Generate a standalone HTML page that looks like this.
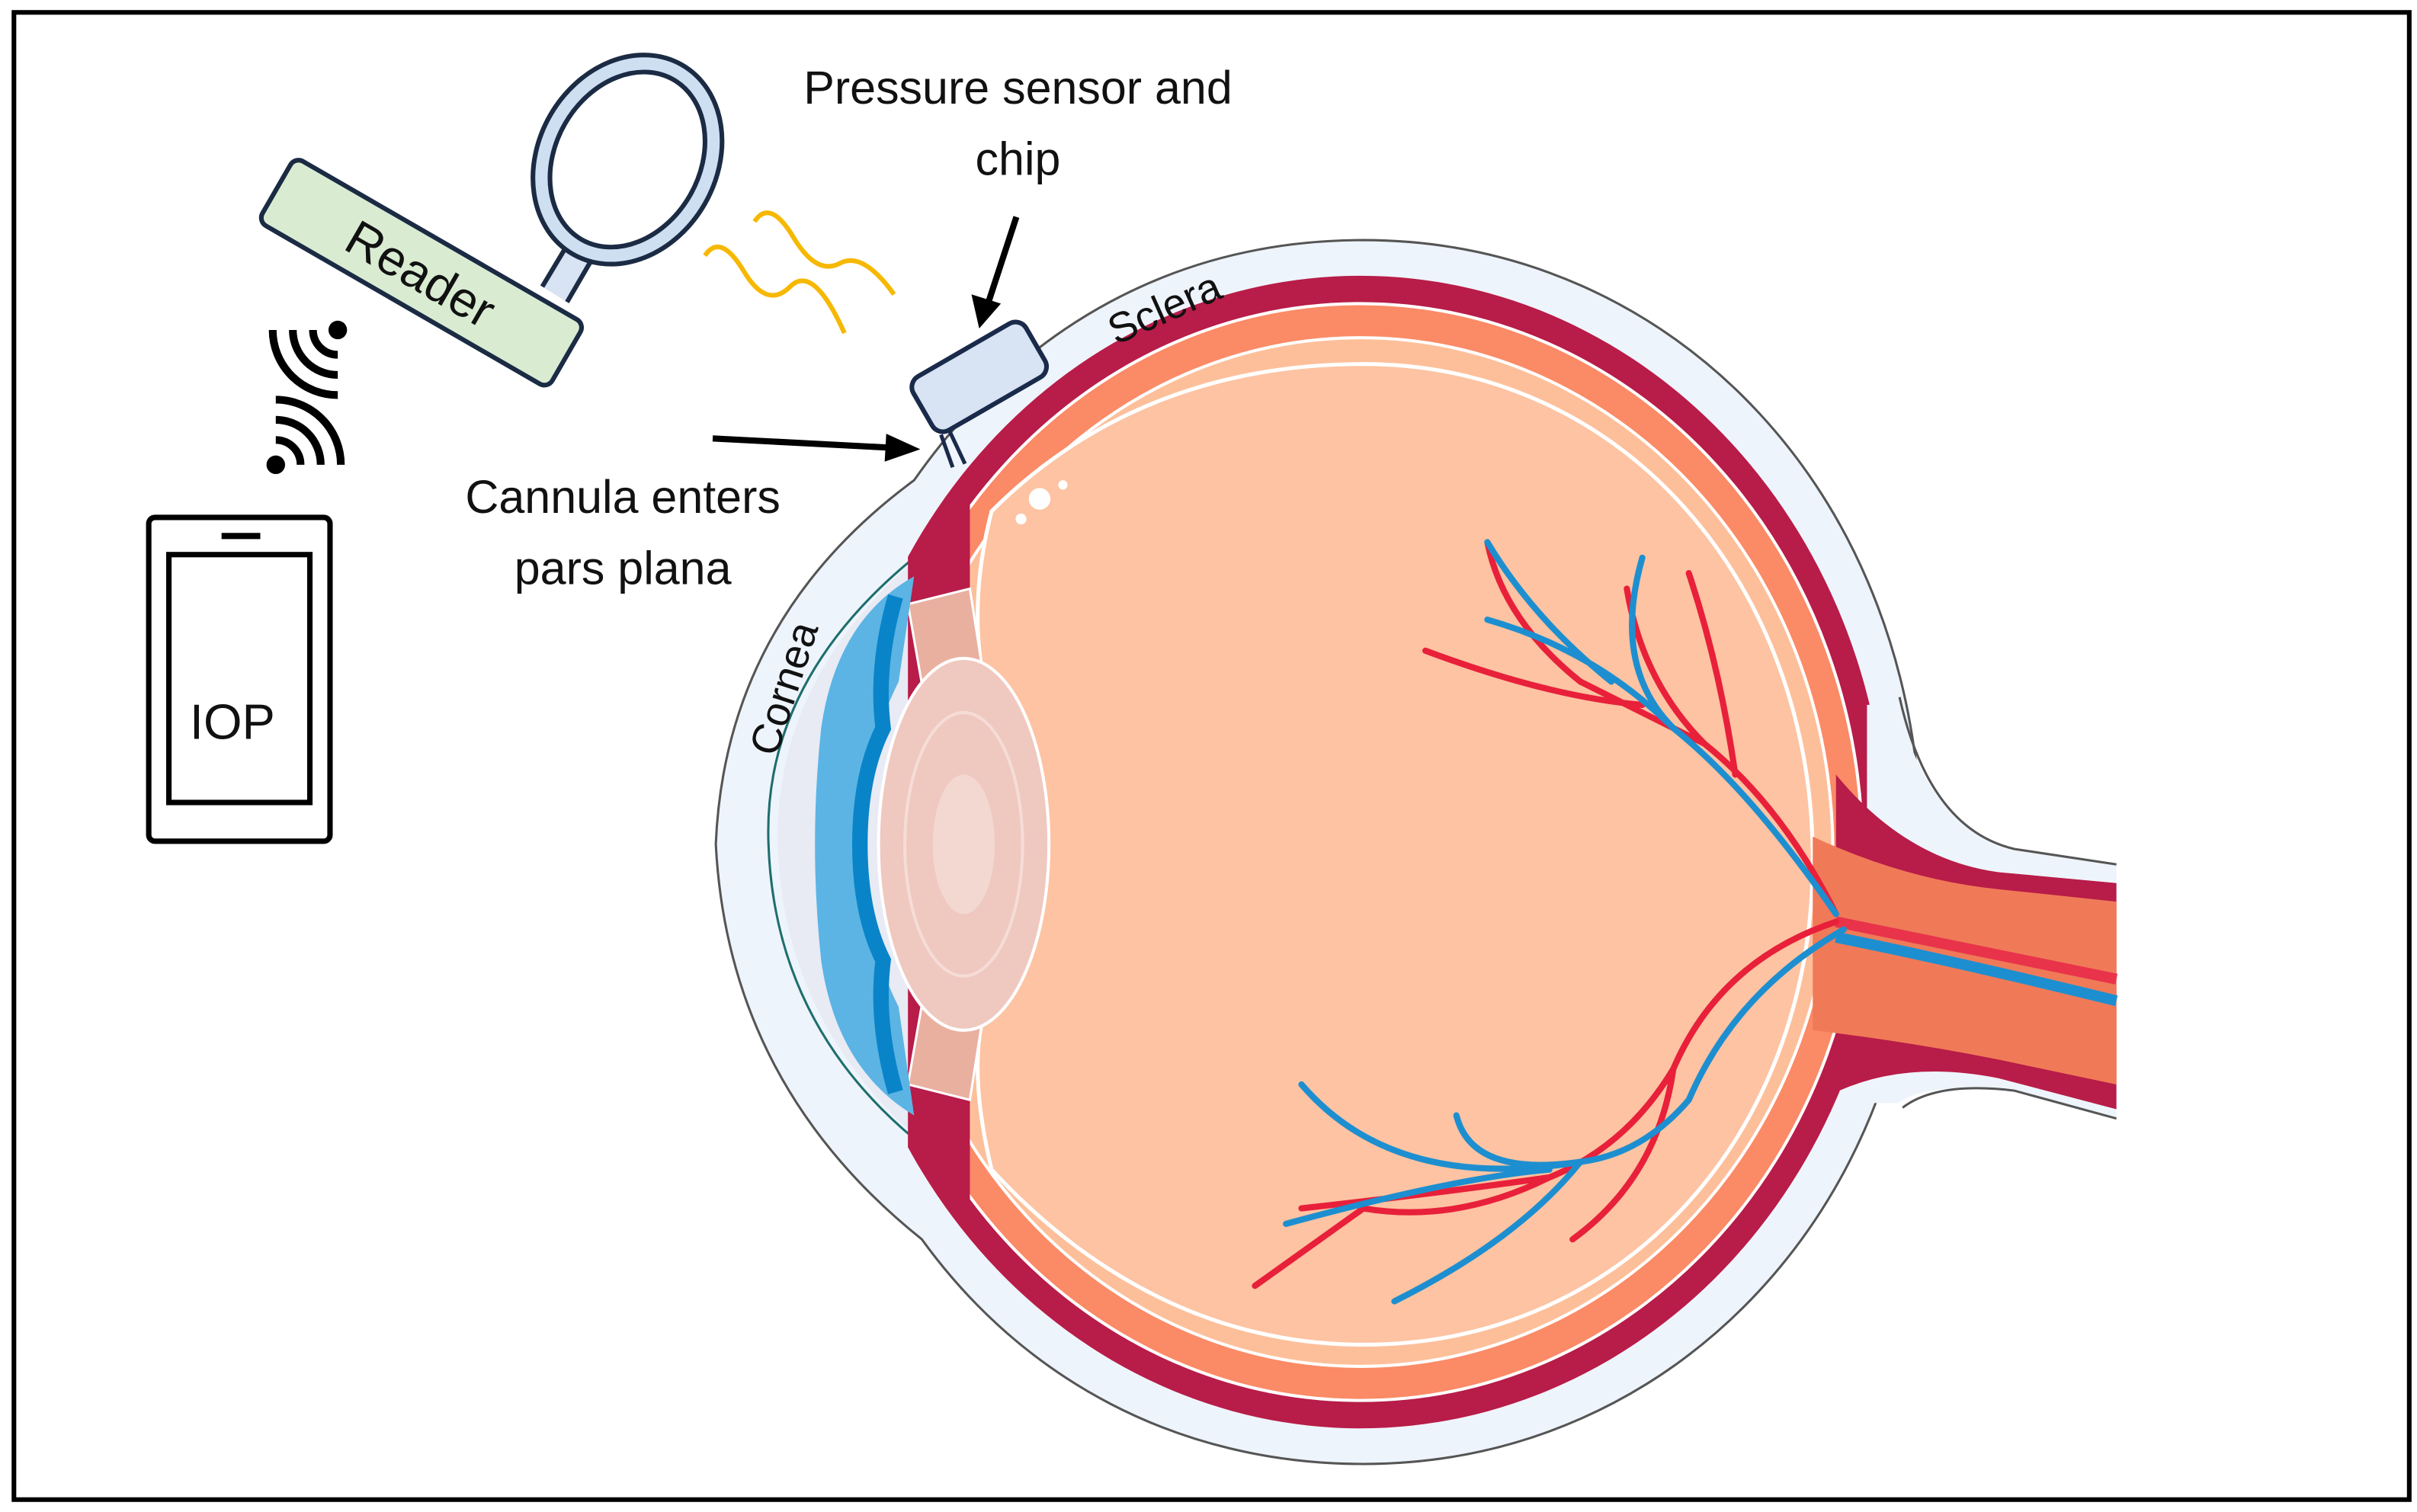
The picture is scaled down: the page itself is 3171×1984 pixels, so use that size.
<!DOCTYPE html>
<html><head><meta charset="utf-8"><style>
html,body{margin:0;padding:0;background:#fff}
svg{display:block}
text{font-family:"Liberation Sans","DejaVu Sans",sans-serif;fill:#111}
</style></head><body>
<svg width="3171" height="1984" viewBox="0 0 1560 976" preserveAspectRatio="none" xmlns="http://www.w3.org/2000/svg">
<defs>
<clipPath id="c1"><rect x="586" y="0" width="1000" height="976"/></clipPath>
<clipPath id="c2"><rect x="626" y="0" width="1000" height="976"/></clipPath>
</defs>
<rect x="0" y="0" width="1560" height="976" fill="#fff"/>
<rect x="9" y="8" width="1546" height="960" fill="none" stroke="#000" stroke-width="3"/>

<!-- outer sclera -->
<path d="M880,155 C1080,155 1240,320 1240,550 C1240,780 1080,945 880,945 C760,945 660,890 595,800 Q470,700 462,545 Q468,400 590,310 C660,210 760,155 880,155 Z" fill="#eef4fb" stroke="#555" stroke-width="1.5"/>
<!-- cornea -->
<path d="M590,362 Q500,440 502,545 Q505,655 590,733 Z" fill="#e8eaf4"/>
<path d="M590,360 Q492,440 496,545 Q500,660 590,735" fill="none" stroke="#1e6e6e" stroke-width="1.5"/>
<!-- choroid -->
<g clip-path="url(#c1)">
<ellipse cx="878" cy="550" rx="340" ry="372" fill="#b81c48"/>
</g>
<g clip-path="url(#c2)">
<ellipse cx="878" cy="550" rx="324" ry="354" fill="#fb8a66" stroke="#fff" stroke-width="2"/>
<ellipse cx="878" cy="550" rx="305" ry="332" fill="#fdbf9a" stroke="#fff" stroke-width="2"/>
</g>
<!-- vitreous -->
<path d="M880,235 C1050,235 1170,380 1170,555 C1170,730 1050,868 880,868 C780,868 700,820 640,755 Q622,680 640,640 Q680,560 640,460 Q622,400 640,330 C700,270 780,235 880,235 Z" fill="#fdc3a2" stroke="#fff" stroke-width="2.5"/>
<!-- optic nerve sheath -->
<path d="M1225,455 Q1245,535 1300,548 L1366,558 L1366,722 L1300,704 Q1245,698 1225,712 L1205,712 L1205,455 Z" fill="#eef4fb"/>
<path d="M1226,450 Q1245,535 1300,548 L1366,558 M1366,722 L1300,704 Q1250,698 1228,715" fill="none" stroke="#555" stroke-width="1.5"/>
<path d="M1185,500 Q1230,555 1290,563 L1366,570 L1366,716 L1290,696 Q1230,684 1185,705 Z" fill="#b81c48"/>
<path d="M1170,540 Q1230,568 1290,574 L1366,582 L1366,700 L1290,684 Q1230,672 1170,665 Z" fill="#f07a58"/>
<path d="M1185,595 Q1260,610 1366,632" stroke="#e8334a" stroke-width="7" fill="none"/>
<path d="M1185,605 Q1260,620 1366,646" stroke="#1d8fd0" stroke-width="7" fill="none"/>
<!-- ciliary -->
<path d="M586,390 L626,380 L640,470 L600,470 Z" fill="#e9b0a0" stroke="#fff" stroke-width="1.5"/>
<path d="M586,700 L626,710 L640,620 L600,620 Z" fill="#e9b0a0" stroke="#fff" stroke-width="1.5"/>
<!-- iris -->
<path d="M590,372 Q540,400 530,470 Q522,545 530,620 Q540,690 590,720 L580,650 Q555,600 560,545 Q555,490 580,440 Z" fill="#5bb4e4"/>
<path d="M578,385 Q565,430 570,470 Q555,500 555,545 Q555,590 570,620 Q565,660 578,705" fill="none" stroke="#0a84c8" stroke-width="10"/>
<!-- lens -->
<ellipse cx="622" cy="545" rx="55" ry="120" fill="#efc8c0" stroke="#fff" stroke-width="2"/>
<ellipse cx="622" cy="545" rx="38" ry="85" fill="none" stroke="#f6dcd6" stroke-width="2"/>
<ellipse cx="622" cy="545" rx="20" ry="45" fill="#f3d8d2"/>
<circle cx="671" cy="322" r="7" fill="#fff"/><circle cx="686" cy="313" r="3" fill="#fff"/><circle cx="659" cy="335" r="3.5" fill="#fff"/>

<!-- vessels -->
<g fill="none" stroke-linecap="round">
<path d="M1185,590 Q1150,520 1100,480 Q1060,440 1050,380 M1100,480 Q1060,460 1020,440 Q970,400 960,350 M1060,455 Q1000,450 920,420 M1120,500 Q1110,430 1090,370" stroke="#e8203a" stroke-width="4"/>
<path d="M1185,590 Q1130,510 1080,470 Q1040,430 1060,360 M1080,470 Q1030,420 960,400 M1040,440 Q990,400 960,350" stroke="#1d8fd0" stroke-width="4"/>
<path d="M1185,595 Q1110,620 1080,690 Q1050,740 1000,760 Q940,790 880,780 L810,830 M1000,760 Q930,770 840,780 M1080,690 Q1070,760 1015,800" stroke="#e8203a" stroke-width="4"/>
<path d="M1190,600 Q1120,640 1090,710 Q1060,745 1020,750 Q950,760 940,720 M1020,750 Q900,770 840,700 M1020,750 Q980,800 900,840 M1000,755 Q940,760 830,790" stroke="#1d8fd0" stroke-width="4"/>
</g>

<!-- sensor -->
<g transform="translate(633,245) rotate(-30)">
<rect x="-42" y="-22" width="84" height="40" rx="8" fill="#d8e3f3" stroke="#1a2a4a" stroke-width="3"/>
<path d="M-40,18 L-44,40 M-34,18 L-36,42" stroke="#1a2a4a" stroke-width="2.5" fill="none"/>
</g>
<!-- arrows -->
<g stroke="#000" stroke-width="4" fill="#000">
<line x1="656" y1="140" x2="638" y2="195"/>
<polygon points="632,212 627,190 646,196" stroke="none"/>
<line x1="460" y1="283" x2="575" y2="289"/>
<polygon points="594,290 572,280 571,298" stroke="none"/>
</g>
<!-- yellow waves -->
<g fill="none" stroke="#f6b800" stroke-width="3">
<path d="M455,165 Q465,150 480,175 Q495,200 510,185 Q525,170 545,215"/>
<path d="M487,143 Q497,128 512,153 Q527,178 542,170 Q557,162 577,190"/>
</g>
<!-- reader -->
<path d="M350,185 L368,155 L384,164 L366,195" fill="#d8e3f3" stroke="#1b2b44" stroke-width="3"/>
<g transform="translate(272,176) rotate(30)">
<rect x="-108" y="-24" width="216" height="48" rx="6" fill="#d9ecd2" stroke="#1b2b44" stroke-width="3"/>
<text x="0" y="12" font-size="32" text-anchor="middle">Reader</text>
</g>
<ellipse cx="405" cy="103" rx="52" ry="65" transform="rotate(30 405 103)" fill="none" stroke="#1b2b44" stroke-width="14"/>
<ellipse cx="405" cy="103" rx="52" ry="65" transform="rotate(30 405 103)" fill="none" stroke="#cfdff2" stroke-width="8"/>
<!-- wifi -->
<g fill="none" stroke="#000" stroke-width="5">
<circle cx="178" cy="300" r="6" fill="#000" stroke="none"/>
<path d="M178,284 A16 16 0 0 1 194,300"/>
<path d="M178,271 A29 29 0 0 1 207,300"/>
<path d="M178,258 A42 42 0 0 1 220,300"/>
<circle cx="218" cy="213" r="6" fill="#000" stroke="none"/>
<path d="M218,229 A16 16 0 0 1 202,213"/>
<path d="M218,242 A29 29 0 0 1 189,213"/>
<path d="M218,255 A42 42 0 0 1 176,213"/>
</g>
<!-- phone -->
<rect x="96" y="334" width="117" height="209" rx="4" fill="#fff" stroke="#000" stroke-width="3.5"/>
<rect x="109" y="358" width="91" height="160" fill="none" stroke="#000" stroke-width="3.5"/>
<line x1="143" y1="346" x2="168" y2="346" stroke="#000" stroke-width="4"/>
<text x="150" y="477" font-size="32" text-anchor="middle">IOP</text>
<!-- labels -->
<text x="657" y="67" font-size="30" text-anchor="middle">Pressure sensor and</text>
<text x="657" y="113" font-size="30" text-anchor="middle">chip</text>
<text x="402" y="331" font-size="30" text-anchor="middle">Cannula enters</text>
<text x="402" y="377" font-size="30" text-anchor="middle">pars plana</text>
<text x="752" y="208" font-size="27" text-anchor="middle" transform="rotate(-24 752 200)">Sclera</text>
<text x="508" y="452" font-size="27" text-anchor="middle" transform="rotate(-72 508 445)">Cornea</text>
</svg>
</body></html>
